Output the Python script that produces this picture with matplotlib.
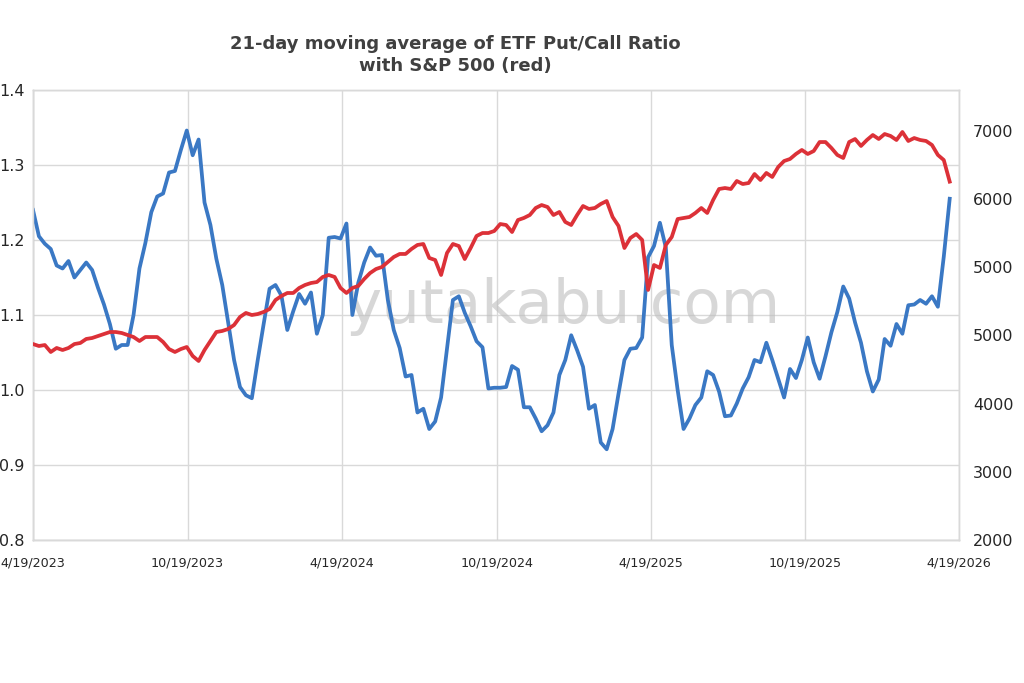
import matplotlib
matplotlib.use('Agg')
import matplotlib.pyplot as plt
import numpy as np
import pandas as pd

# weekly samples, starting 4/19/2023
put_call = [
    1.240, 1.205, 1.195, 1.188, 1.166, 1.162, 1.172, 1.150, 1.160, 1.170,
    1.160, 1.136, 1.114, 1.088, 1.055, 1.060, 1.060, 1.100, 1.162, 1.196,
    1.237, 1.258, 1.262, 1.290, 1.292, 1.320, 1.346, 1.313, 1.334, 1.250,
    1.220, 1.175, 1.140, 1.090, 1.040, 1.004, 0.993, 0.989, 1.040, 1.088,
    1.135, 1.140, 1.126, 1.080, 1.105, 1.128, 1.115, 1.130, 1.075, 1.100,
    1.203, 1.204, 1.202, 1.222, 1.100, 1.143, 1.170, 1.190, 1.179, 1.180,
    1.120, 1.080, 1.056, 1.018, 1.020, 0.970, 0.975, 0.948, 0.958, 0.990,
    1.055, 1.120, 1.125, 1.103, 1.085, 1.065, 1.057, 1.002, 1.003, 1.003,
    1.004, 1.032, 1.027, 0.977, 0.977, 0.962, 0.945, 0.953, 0.970, 1.020,
    1.040, 1.073, 1.053, 1.031, 0.975, 0.980, 0.930, 0.921, 0.948, 0.995,
    1.040, 1.055, 1.056, 1.070, 1.177, 1.192, 1.223, 1.190, 1.060, 1.000,
    0.948, 0.962, 0.980, 0.990, 1.025, 1.020, 0.998, 0.965, 0.966, 0.982,
    1.002, 1.017, 1.040, 1.037, 1.063, 1.040, 1.015, 0.990, 1.028, 1.016,
    1.040, 1.070, 1.037, 1.015, 1.045, 1.077, 1.104, 1.138, 1.122, 1.090,
    1.063, 1.025, 0.998, 1.014, 1.068, 1.059, 1.088, 1.075, 1.113, 1.114,
    1.120, 1.115, 1.125, 1.111, 1.178, 1.255,
]

spx = [
    4395, 4371, 4383, 4298, 4347, 4322, 4347, 4395, 4408, 4457,
    4469, 4493, 4518, 4542, 4542, 4530, 4506, 4481, 4432, 4481,
    4481, 4481, 4420, 4334, 4298, 4334, 4359, 4249, 4188, 4322,
    4432, 4542, 4555, 4579, 4628, 4726, 4775, 4750, 4762, 4787,
    4823, 4933, 4982, 5019, 5019, 5080, 5117, 5141, 5153, 5215,
    5239, 5215, 5080, 5019, 5080, 5105, 5190, 5263, 5312, 5337,
    5398, 5459, 5496, 5496, 5557, 5606, 5618, 5447, 5422, 5239,
    5508, 5618, 5593, 5434, 5569, 5716, 5752, 5752, 5777, 5862,
    5850, 5764, 5911, 5936, 5972, 6058, 6094, 6070, 5972, 6009,
    5887, 5850, 5972, 6082, 6046, 6058, 6107, 6143, 5948, 5838,
    5569, 5691, 5740, 5667, 5056, 5361, 5325, 5606, 5703, 5923,
    5936, 5948, 5997, 6058, 5997, 6156, 6290, 6302, 6290, 6388,
    6351, 6363, 6473, 6400, 6486, 6437, 6559, 6632, 6657, 6718,
    6767, 6718, 6754, 6864, 6864, 6791, 6706, 6669, 6864, 6901,
    6816, 6889, 6950, 6901, 6962, 6938, 6889, 6987, 6877, 6913,
    6889, 6877, 6828, 6706, 6644, 6380,
]

dates = pd.date_range('2023-04-19', periods=len(put_call), freq='7D')

tick_dates = pd.to_datetime(['2023-04-19', '2023-10-19', '2024-04-19',
                             '2024-10-19', '2025-04-19', '2025-10-19', '2026-04-19'])
tick_labels = ['4/19/2023', '10/19/2023', '4/19/2024', '10/19/2024',
               '4/19/2025', '10/19/2025', '4/19/2026']
left_ticks = [0.8, 0.9, 1.0, 1.1, 1.2, 1.3, 1.4]
right_ticks = np.linspace(2000, 7000, 7)
right_labels = ['2000', '3000', '4000', '5000', '5000', '6000', '7000']

blue = '#3a78c4'
red = '#dc3138'
grid_c = '#d9d9d9'

fig = plt.figure(figsize=(10.24, 6.83), dpi=100)
ax = fig.add_axes([33 / 1024, 1 - 540 / 683, 926 / 1024, 450 / 683])
ax2 = ax.twinx()

ax.plot(dates, put_call, color=blue, lw=2.7, solid_joinstyle='round', zorder=3)
ax2.plot(dates, spx, color=red, lw=2.7, solid_joinstyle='round', zorder=3)

ax.set_xlim(tick_dates[0], tick_dates[-1])
ax.set_ylim(0.8, 1.4)
ax2.set_ylim(2000, 7500)

ax.set_xticks(tick_dates)
ax.set_xticklabels(tick_labels)
ax.set_yticks(left_ticks)
ax.set_yticklabels([f'{v:.1f}' for v in left_ticks])
ax2.set_yticks(right_ticks)
ax2.set_yticklabels(right_labels)

ax.grid(True, color=grid_c, lw=1)
ax.set_axisbelow(True)
ax.tick_params(axis='x', length=0, pad=12, labelsize=9.2, colors='#262626')
ax.tick_params(axis='y', length=0, pad=6, labelsize=11.5, colors='#262626')
ax2.tick_params(axis='y', length=0, pad=10, labelsize=11.5, colors='#262626')

for a in (ax, ax2):
    for s in a.spines.values():
        s.set_color(grid_c)
        s.set_linewidth(1)
ax.spines['left'].set_color('#bfbfbf')
ax.spines['bottom'].set_color('#bfbfbf')

# watermark (centre ~x=563px, baseline ~y=323px)
ax.text((563 - 33) / 926, (540 - 323) / 450, 'yutakabu.com', transform=ax.transAxes,
        ha='center', va='baseline', fontsize=44, color='#bdbdbd', alpha=0.6, zorder=1)

fig.text(455 / 1024, 1 - 55 / 683, '21-day moving average of ETF Put/Call Ratio\nwith S&P 500 (red)',
         ha='center', va='center', fontsize=13, fontweight='bold', color='#404040',
         linespacing=1.35)

fig.savefig('out.png', dpi=100)
